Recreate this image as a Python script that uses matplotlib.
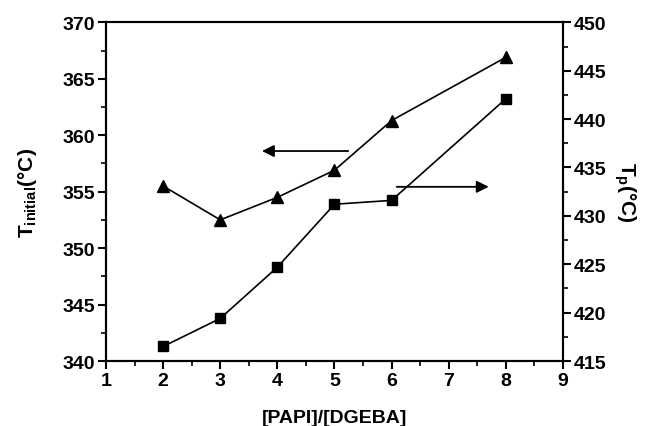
import matplotlib
matplotlib.use("Agg")
import matplotlib.pyplot as plt
from matplotlib.ticker import MultipleLocator

plt.rcParams['font.family'] = ['Liberation Sans', 'DejaVu Sans']
plt.rcParams['font.weight'] = 'bold'
plt.rcParams['mathtext.fontset'] = 'custom'
plt.rcParams['mathtext.rm'] = 'Liberation Sans:bold'
plt.rcParams['mathtext.it'] = 'Liberation Sans:bold'
plt.rcParams['mathtext.bf'] = 'Liberation Sans:bold'

# molar ratio and the two temperatures
ratio = [2, 3, 4, 5, 6, 8]
t_initial = [355.5, 352.5, 354.5, 356.9, 361.3, 366.9]
t_peak = [416.5, 419.4, 424.7, 431.2, 431.6, 442.1]

fig = plt.figure(figsize=(6.48, 4.27), dpi=100)
ax = fig.add_axes([0.1636, 0.1522, 0.7052, 0.7932])
ax2 = ax.twinx()

ax.plot(ratio, t_initial, color='black', lw=1.2, marker='^', ms=9,
        markerfacecolor='black', markeredgecolor='black')
ax2.plot(ratio, t_peak, color='black', lw=1.2, marker='s', ms=7.5,
         markerfacecolor='black', markeredgecolor='black')

ax.set_xlim(1, 9)
ax.set_ylim(340, 370)
ax2.set_ylim(415, 450)

ax.xaxis.set_major_locator(MultipleLocator(1))
ax.xaxis.set_minor_locator(MultipleLocator(0.5))
ax.yaxis.set_major_locator(MultipleLocator(5))
ax.yaxis.set_minor_locator(MultipleLocator(2.5))
ax2.yaxis.set_major_locator(MultipleLocator(5))
ax2.yaxis.set_minor_locator(MultipleLocator(2.5))

for a in (ax, ax2):
    for s in a.spines.values():
        s.set_linewidth(1.5)
    a.tick_params(which='major', direction='out', length=6, width=1.5,
                  labelsize=14, pad=2)
    a.tick_params(which='minor', direction='out', length=3.5, width=1.2)
ax.tick_params(top=False, right=False, which='both')
ax2.tick_params(axis='y', which='both', right=True, left=False)

for lab in ax.get_xticklabels() + ax.get_yticklabels() + ax2.get_yticklabels():
    lab.set_fontweight('bold')

ax.set_xlabel('[PAPI]/[DGEBA]', fontsize=14, fontweight='bold', labelpad=14)
ax.set_ylabel(r'T$_{\mathrm{initial}}$(°C)', fontsize=15, fontweight='bold',
              labelpad=17)
ax2.set_ylabel(r'T$_{\mathrm{p}}$(°C)', fontsize=15, fontweight='bold',
               rotation=-90, labelpad=22)

# arrows pointing to the axis each curve belongs to
ax.annotate('', xy=(3.73, 358.6), xytext=(5.24, 358.6),
            arrowprops=dict(arrowstyle='-|>', color='black', lw=1.3,
                            mutation_scale=18, shrinkA=0, shrinkB=0))
ax2.annotate('', xy=(7.70, 433.0), xytext=(6.09, 433.0),
             arrowprops=dict(arrowstyle='-|>', color='black', lw=1.3,
                             mutation_scale=18, shrinkA=0, shrinkB=0))

fig.savefig('out.png', dpi=100)
